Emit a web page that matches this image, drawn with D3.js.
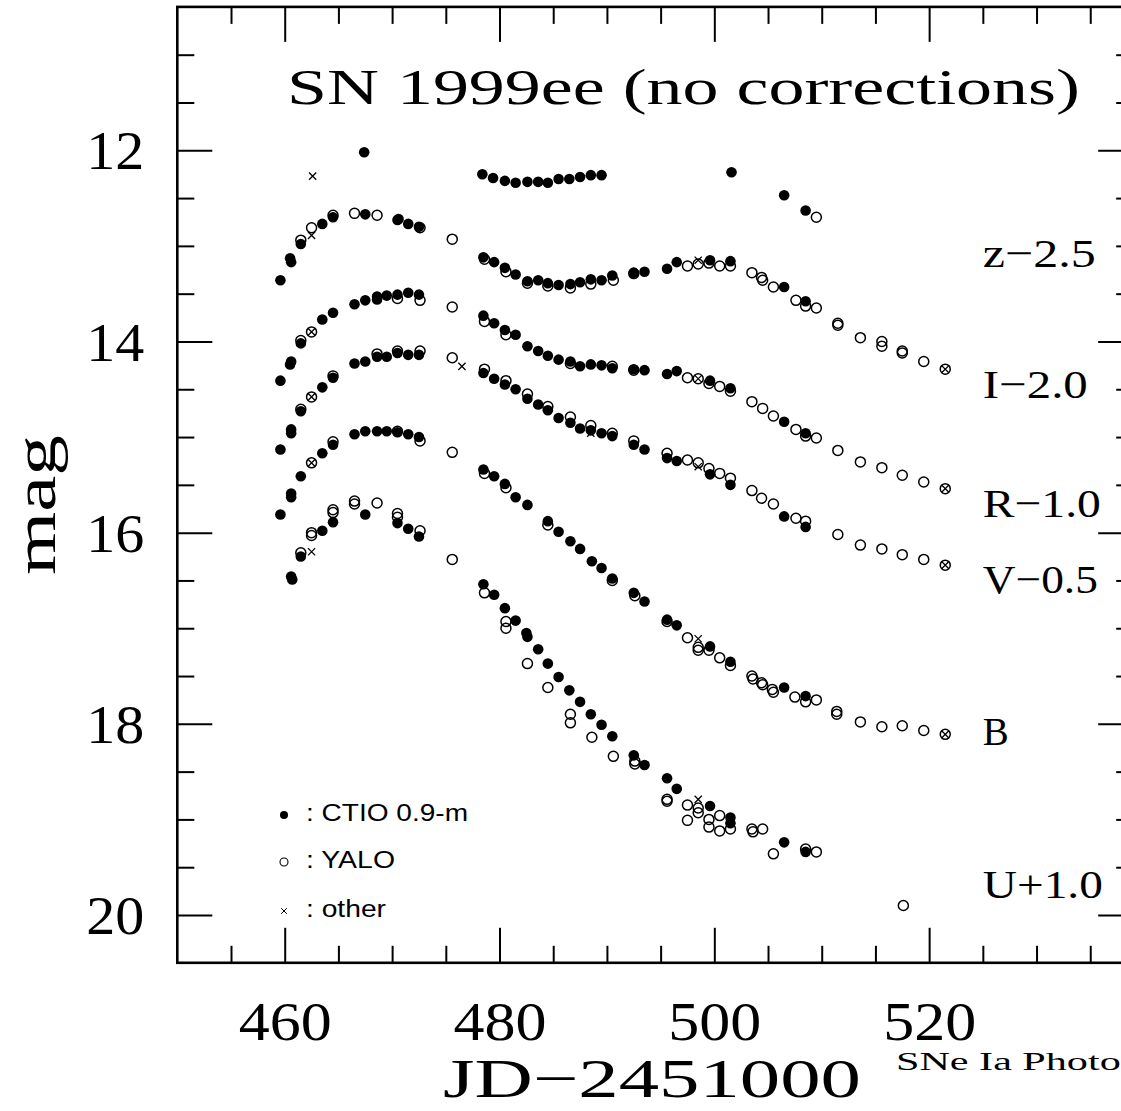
<!DOCTYPE html>
<html>
<head>
<meta charset="utf-8">
<script src="https://cdn.jsdelivr.net/npm/d3@7"></script>
<style>
  body { margin: 0; background: #fff; }
  svg { display: block; }
</style>
</head>
<body>
<div id="container"></div>
<script>
let w = 1121;
let h = 1111;

// light curve points: [JD-2451000, plotted mag, source]  c = CTIO 0.9-m, y = YALO, o = other
let zBand = [
  [462.6,12.27,"o"],[467.4,12.02,"c"],
  [478.4,12.25,"c"],[479.4,12.29,"c"],[480.5,12.32,"c"],[481.5,12.34,"c"],[482.6,12.33,"c"],[483.6,12.33,"c"],
  [484.5,12.34,"c"],[485.5,12.30,"c"],[486.5,12.30,"c"],[487.5,12.28,"c"],[488.5,12.26,"c"],[489.5,12.26,"c"],
  [501.6,12.23,"c"],[506.5,12.47,"c"],[508.5,12.63,"c"],[509.5,12.70,"y"]
];

let iBand = [
  [459.6,13.36,"c"],[460.6,13.17,"c"],[460.5,13.13,"c"],[461.5,12.98,"c"],[461.5,12.94,"y"],[462.5,12.81,"y"],[462.5,12.89,"o"],
  [463.5,12.77,"c"],[464.5,12.70,"c"],[464.5,12.68,"y"],[466.5,12.66,"y"],[467.5,12.67,"c"],[468.6,12.68,"y"],
  [470.5,12.73,"c"],[470.6,12.72,"c"],[471.5,12.77,"c"],[472.5,12.80,"c"],[472.6,12.81,"y"],[475.6,12.93,"y"],
  [478.5,13.12,"c"],[478.6,13.14,"y"],[479.5,13.17,"c"],[480.5,13.23,"c"],[480.6,13.27,"y"],[481.5,13.30,"c"],
  [482.6,13.37,"c"],[482.6,13.39,"y"],[483.6,13.36,"c"],[484.5,13.39,"c"],[484.5,13.42,"y"],[485.5,13.41,"c"],
  [486.6,13.40,"c"],[486.6,13.44,"y"],[487.5,13.38,"c"],[488.5,13.35,"c"],[488.5,13.40,"y"],[489.5,13.36,"c"],
  [490.5,13.31,"c"],[490.6,13.36,"y"],[492.5,13.28,"c"],[492.5,13.29,"y"],[493.5,13.27,"c"],[495.6,13.24,"c"],
  [496.5,13.17,"c"],[497.5,13.21,"y"],[498.5,13.15,"o"],[498.5,13.19,"y"],[499.6,13.15,"c"],[499.5,13.18,"y"],
  [500.5,13.21,"y"],[501.5,13.16,"c"],[501.5,13.21,"y"],[503.5,13.28,"y"],[504.4,13.33,"y"],[504.5,13.36,"y"],
  [505.5,13.43,"y"],[506.5,13.43,"c"],[507.6,13.57,"y"],[508.5,13.58,"c"],[508.5,13.63,"y"],[509.5,13.65,"y"],
  [511.5,13.81,"y"],[511.5,13.83,"y"],[513.6,13.96,"y"],[515.6,14.00,"y"],[515.6,14.05,"y"],[517.5,14.10,"y"],
  [517.5,14.12,"y"],[519.5,14.21,"y"],[521.5,14.29,"y"],[521.5,14.29,"o"]
];

let rBand = [
  [459.6,14.41,"c"],[460.6,14.21,"c"],[460.5,14.24,"c"],[461.5,14.02,"c"],[461.5,13.99,"y"],[462.5,13.90,"y"],[462.5,13.90,"o"],
  [463.5,13.77,"c"],[464.5,13.70,"c"],[466.5,13.61,"c"],[467.5,13.57,"c"],[468.6,13.56,"c"],[468.6,13.53,"c"],
  [469.5,13.52,"c"],[470.5,13.51,"c"],[470.5,13.55,"y"],[471.5,13.49,"c"],[472.5,13.51,"c"],[472.6,13.57,"y"],[475.6,13.64,"y"],
  [478.5,13.73,"c"],[478.6,13.79,"y"],[479.5,13.81,"c"],[480.5,13.88,"c"],[480.6,13.93,"y"],[481.5,13.93,"c"],
  [482.6,14.05,"c"],[483.6,14.10,"c"],[484.5,14.15,"c"],[485.5,14.19,"c"],[486.6,14.21,"c"],[486.6,14.23,"y"],
  [487.5,14.26,"c"],[488.5,14.24,"c"],[489.5,14.25,"c"],[490.5,14.28,"c"],[490.5,14.26,"y"],
  [492.5,14.29,"c"],[492.5,14.30,"y"],[493.5,14.30,"c"],[495.6,14.34,"c"],[496.5,14.31,"c"],[497.5,14.38,"y"],
  [498.5,14.39,"y"],[498.5,14.39,"o"],[499.6,14.41,"c"],[499.5,14.44,"y"],[500.5,14.47,"y"],[501.5,14.49,"c"],[501.5,14.52,"y"],
  [503.5,14.63,"y"],[504.5,14.70,"y"],[505.5,14.78,"y"],[506.5,14.84,"c"],[507.6,14.92,"y"],[508.5,14.96,"c"],
  [508.5,14.99,"y"],[509.5,15.01,"y"],[511.5,15.14,"y"],[513.6,15.26,"y"],[515.6,15.32,"y"],[517.5,15.40,"y"],
  [519.5,15.47,"y"],[521.5,15.54,"y"],[521.5,15.54,"o"]
];

let vBand = [
  [459.6,15.13,"c"],[460.6,14.92,"c"],[460.6,14.96,"c"],[461.5,14.73,"c"],[461.5,14.71,"y"],[462.5,14.58,"y"],[462.5,14.58,"o"],
  [463.5,14.48,"c"],[464.5,14.38,"c"],[464.5,14.36,"y"],[466.5,14.23,"c"],[467.5,14.21,"c"],[468.6,14.16,"c"],
  [468.6,14.13,"y"],[469.5,14.16,"c"],[470.5,14.12,"c"],[470.5,14.10,"y"],[471.5,14.14,"c"],[472.5,14.14,"c"],
  [472.6,14.10,"y"],[475.6,14.17,"y"],[476.5,14.26,"o"],
  [478.5,14.33,"c"],[478.6,14.29,"y"],[479.5,14.39,"c"],[480.5,14.45,"c"],[480.6,14.41,"y"],[481.5,14.50,"c"],
  [482.6,14.60,"c"],[482.6,14.55,"y"],[483.6,14.66,"c"],[484.5,14.72,"c"],[484.5,14.68,"y"],[485.5,14.80,"c"],
  [486.6,14.85,"c"],[486.6,14.79,"y"],[487.5,14.91,"c"],[488.5,14.93,"c"],[488.5,14.88,"y"],[488.5,14.96,"o"],
  [489.5,14.96,"c"],[490.5,14.99,"c"],[490.5,14.96,"y"],
  [492.5,15.08,"c"],[492.5,15.04,"y"],[493.5,15.13,"c"],[495.6,15.22,"c"],[495.6,15.17,"y"],[496.5,15.25,"c"],
  [497.5,15.24,"y"],[498.5,15.27,"y"],[498.5,15.31,"o"],[499.6,15.39,"c"],[499.5,15.33,"y"],[500.5,15.38,"y"],
  [501.5,15.50,"c"],[501.5,15.43,"y"],
  [503.5,15.56,"y"],[504.4,15.64,"y"],[505.5,15.70,"y"],[506.5,15.83,"c"],[507.6,15.85,"y"],[508.5,15.94,"c"],
  [508.5,15.88,"y"],[511.5,16.02,"y"],[513.6,16.13,"y"],[515.6,16.17,"y"],[517.5,16.23,"y"],[519.5,16.28,"y"],
  [521.5,16.34,"y"],[521.5,16.34,"o"]
];

let bBand = [
  [459.6,15.81,"c"],[460.6,15.59,"c"],[460.6,15.63,"c"],[461.5,15.41,"c"],[462.5,15.27,"y"],[462.5,15.27,"o"],
  [463.5,15.17,"c"],[464.5,15.08,"c"],[464.5,15.05,"y"],[466.5,14.97,"c"],[467.5,14.94,"c"],[468.6,14.94,"c"],
  [469.5,14.94,"c"],[470.5,14.95,"c"],[470.5,14.94,"y"],[471.5,14.97,"c"],[472.5,15.00,"c"],[472.6,15.04,"y"],[475.6,15.16,"y"],
  [478.5,15.34,"c"],[478.6,15.38,"y"],[479.5,15.41,"c"],[480.5,15.49,"c"],[480.6,15.53,"y"],[481.5,15.63,"c"],
  [482.6,15.71,"c"],[484.5,15.88,"c"],[484.5,15.92,"y"],[485.5,15.99,"c"],[486.6,16.09,"c"],[487.5,16.17,"c"],
  [488.6,16.30,"c"],[489.5,16.37,"c"],[490.5,16.48,"c"],[490.5,16.50,"y"],
  [492.5,16.63,"c"],[492.6,16.66,"y"],[493.5,16.72,"c"],[495.6,16.91,"c"],[495.6,16.93,"y"],[496.5,16.97,"c"],
  [497.5,17.10,"y"],[498.5,17.11,"o"],[498.5,17.20,"y"],[498.5,17.23,"y"],[499.6,17.19,"c"],[499.5,17.23,"y"],
  [500.5,17.31,"y"],[501.5,17.35,"c"],[501.5,17.39,"y"],
  [503.5,17.50,"y"],[503.6,17.53,"y"],[504.4,17.57,"y"],[504.5,17.59,"y"],[505.4,17.64,"y"],[505.5,17.67,"y"],
  [506.5,17.62,"c"],[507.5,17.72,"y"],[508.5,17.71,"c"],[508.5,17.77,"y"],[509.5,17.75,"y"],[511.4,17.87,"y"],
  [511.4,17.90,"y"],[513.6,17.98,"y"],[515.6,18.03,"y"],[517.5,18.02,"y"],[519.5,18.07,"y"],[521.5,18.11,"y"],[521.5,18.11,"o"]
];

let uBand = [
  [460.6,16.46,"c"],[460.7,16.49,"c"],[461.5,16.25,"c"],[461.5,16.21,"y"],[462.5,16.20,"o"],[462.5,16.03,"y"],[462.5,16.00,"y"],
  [463.5,15.98,"c"],[464.5,15.89,"c"],[464.5,15.76,"y"],[464.5,15.79,"y"],[466.5,15.67,"y"],[466.5,15.70,"y"],
  [467.5,15.81,"c"],[468.6,15.69,"y"],[470.5,15.80,"y"],[470.5,15.84,"y"],[470.5,15.90,"c"],[471.5,15.96,"c"],
  [472.6,15.98,"y"],[472.5,16.04,"c"],[475.6,16.28,"y"],
  [478.5,16.54,"c"],[478.6,16.63,"y"],[479.5,16.65,"c"],[480.5,16.79,"c"],[480.6,16.93,"y"],[480.6,17.00,"y"],
  [481.5,16.92,"c"],[482.5,17.05,"c"],[482.6,17.09,"c"],[482.6,17.37,"y"],[483.6,17.22,"c"],[484.5,17.37,"c"],
  [484.5,17.62,"y"],[485.5,17.51,"c"],[486.5,17.65,"c"],[486.6,17.90,"y"],[486.6,17.99,"y"],[487.5,17.77,"c"],
  [488.5,17.90,"c"],[488.6,18.14,"y"],[489.5,18.01,"c"],[490.5,18.13,"c"],[490.6,18.34,"y"],
  [492.5,18.33,"c"],[492.6,18.39,"y"],[492.6,18.42,"y"],[493.5,18.43,"c"],[495.6,18.57,"c"],[495.6,18.79,"y"],
  [495.6,18.81,"y"],[496.5,18.68,"c"],[497.5,18.85,"y"],[497.5,19.01,"y"],[498.5,18.79,"o"],[498.5,18.88,"y"],
  [498.5,18.93,"y"],[499.6,18.86,"c"],[499.5,19.00,"y"],[499.5,19.08,"y"],[500.5,18.96,"y"],[500.5,19.12,"y"],
  [501.5,18.98,"c"],[501.5,19.04,"c"],[501.5,19.10,"y"],
  [503.5,19.10,"y"],[503.6,19.13,"y"],[504.5,19.10,"y"],[505.5,19.36,"y"],[506.5,19.24,"c"],[508.5,19.34,"c"],
  [508.5,19.31,"y"],[509.5,19.34,"y"],[517.6,19.90,"y"]
];

let bandNames = ["z\u22122.5", "I\u22122.0", "R\u22121.0", "V\u22120.5", "B", "U+1.0"];
let bandData = [zBand, iBand, rBand, vBand, bBand, uBand];

let xMajorTicks = [460, 480, 500, 520];
let yMajorTicks = [12, 14, 16, 18, 20];

let legendNames = [": CTIO 0.9-m", ": YALO", ": other"];

// layout
let plotLeft = 177.3, plotRight = 1133.2, plotTop = 6.9, plotBottom = 962.8;
let serif = "'Liberation Serif', 'Times New Roman', serif";

let viz = d3.select("#container")
  .append("svg")
    .attr("width", w)
    .attr("height", h)
    .style("background-color", "white");

let xScale = d3.scaleLinear().domain([450, 539]).range([plotLeft, plotRight]);
let yScale = d3.scaleLinear().domain([10.5, 20.5]).range([plotTop, plotBottom]);

let xMinor = d3.range(455, 539, 5).filter(v => xMajorTicks.indexOf(v) < 0);
let yMinor = d3.range(11, 20.01, 0.5).filter(v => yMajorTicks.indexOf(v) < 0);

function tidy(g){
  g.select(".domain").remove();
  g.selectAll("line").attr("stroke", "black").attr("stroke-width", 2);
}

// bottom
viz.append("g").attr("transform", "translate(0," + plotBottom + ")")
  .call(d3.axisBottom(xScale).tickValues(xMinor).tickSize(-17).tickFormat(""))
  .call(tidy);
let xAxisGroup = viz.append("g").attr("class", "xaxis").attr("transform", "translate(0," + plotBottom + ")")
  .call(d3.axisBottom(xScale).tickValues(xMajorTicks).tickSize(-35).tickFormat(d3.format("d")))
  .call(tidy);
xAxisGroup.selectAll("text")
  .attr("y", 77).attr("dy", null)
  .attr("font-family", serif).attr("font-size", 55).attr("fill", "black")
  .attr("textLength", 93).attr("lengthAdjust", "spacingAndGlyphs");

// top
viz.append("g").attr("transform", "translate(0," + plotTop + ")")
  .call(d3.axisTop(xScale).tickValues(xMinor).tickSize(-17).tickFormat(""))
  .call(tidy);
viz.append("g").attr("transform", "translate(0," + plotTop + ")")
  .call(d3.axisTop(xScale).tickValues(xMajorTicks).tickSize(-35).tickFormat(""))
  .call(tidy);

// left
viz.append("g").attr("transform", "translate(" + plotLeft + ",0)")
  .call(d3.axisLeft(yScale).tickValues(yMinor).tickSize(-17).tickFormat(""))
  .call(tidy);
let yAxisGroup = viz.append("g").attr("class", "yaxis").attr("transform", "translate(" + plotLeft + ",0)")
  .call(d3.axisLeft(yScale).tickValues(yMajorTicks).tickSize(-35).tickFormat(d3.format("d")))
  .call(tidy);
yAxisGroup.selectAll("text")
  .attr("x", -33).attr("y", 18.7).attr("dy", null)
  .attr("font-family", serif).attr("font-size", 55).attr("fill", "black")
  .attr("textLength", 58).attr("lengthAdjust", "spacingAndGlyphs");

// right
viz.append("g").attr("transform", "translate(" + plotRight + ",0)")
  .call(d3.axisRight(yScale).tickValues(yMinor).tickSize(-17).tickFormat(""))
  .call(tidy);
viz.append("g").attr("transform", "translate(" + plotRight + ",0)")
  .call(d3.axisRight(yScale).tickValues(yMajorTicks).tickSize(-35).tickFormat(""))
  .call(tidy);

// frame
viz.append("rect")
  .attr("x", plotLeft).attr("y", plotTop)
  .attr("width", plotRight - plotLeft).attr("height", plotBottom - plotTop)
  .attr("fill", "none").attr("stroke", "black").attr("stroke-width", 2.6);

// points
let allPoints = bandData.flat();

viz.append("g").selectAll("circle")
  .data(allPoints.filter(d => d[2] == "c"))
  .enter().append("circle")
    .attr("cx", d => xScale(d[0]))
    .attr("cy", d => yScale(d[1]))
    .attr("r", 5.3)
    .attr("fill", "black");

viz.append("g").selectAll("circle")
  .data(allPoints.filter(d => d[2] == "y"))
  .enter().append("circle")
    .attr("cx", d => xScale(d[0]))
    .attr("cy", d => yScale(d[1]))
    .attr("r", 5)
    .attr("fill", "none")
    .attr("stroke", "black")
    .attr("stroke-width", 1.5);

viz.append("g").selectAll("path")
  .data(allPoints.filter(d => d[2] == "o"))
  .enter().append("path")
    .attr("transform", d => "translate(" + xScale(d[0]) + "," + yScale(d[1]) + ")")
    .attr("d", "M-3.6,-3.6L3.6,3.6M-3.6,3.6L3.6,-3.6")
    .attr("stroke", "black")
    .attr("stroke-width", 1.3);

// band labels
let labelMags = [13.07, 14.45, 15.69, 16.49, 18.07, 19.68];
let labelWidths = [113, 105, 118, 115, 26, 120];
viz.append("g").selectAll("text")
  .data(bandNames)
  .enter().append("text")
    .attr("x", xScale(525.0))
    .attr("y", (d, i) => yScale(labelMags[i]) + 14)
    .attr("font-family", serif)
    .attr("font-size", 41)
    .attr("textLength", (d, i) => labelWidths[i])
    .attr("lengthAdjust", "spacingAndGlyphs")
    .text(d => d);

// title
viz.append("text")
  .attr("x", 287).attr("y", 104)
  .attr("font-family", serif).attr("font-size", 51)
  .attr("textLength", 793).attr("lengthAdjust", "spacingAndGlyphs")
  .text("SN 1999ee (no corrections)");

// axis titles
viz.append("text")
  .attr("transform", "translate(55,505) rotate(-90)")
  .attr("text-anchor", "middle")
  .attr("font-family", serif).attr("font-size", 60)
  .attr("textLength", 140).attr("lengthAdjust", "spacingAndGlyphs")
  .text("mag");

viz.append("text")
  .attr("x", 652).attr("y", 1097)
  .attr("text-anchor", "middle")
  .attr("font-family", serif).attr("font-size", 55)
  .attr("textLength", 418).attr("lengthAdjust", "spacingAndGlyphs")
  .text("JD\u22122451000");

viz.append("text")
  .attr("x", 896).attr("y", 1070)
  .attr("font-family", serif).attr("font-size", 25)
  .attr("textLength", 323).attr("lengthAdjust", "spacingAndGlyphs")
  .text("SNe Ia Photometry");

// legend
let legendY = [815, 862, 911];
let legend = viz.append("g");
legend.append("circle").attr("cx", 284).attr("cy", legendY[0]).attr("r", 4).attr("fill", "black");
legend.append("circle").attr("cx", 284).attr("cy", legendY[1]).attr("r", 4)
  .attr("fill", "none").attr("stroke", "black").attr("stroke-width", 1.1);
legend.append("path").attr("transform", "translate(284," + legendY[2] + ")")
  .attr("d", "M-2.8,-2.8L2.8,2.8M-2.8,2.8L2.8,-2.8")
  .attr("stroke", "black").attr("stroke-width", 1);
let legendWidths = [162, 89, 80];
legend.selectAll("text")
  .data(legendNames)
  .enter().append("text")
    .attr("x", 306)
    .attr("y", (d, i) => legendY[i] + 6)
    .attr("font-family", "'Liberation Sans', Arial, sans-serif")
    .attr("font-size", 23)
    .attr("textLength", (d, i) => legendWidths[i])
    .attr("lengthAdjust", "spacingAndGlyphs")
    .text(d => d);
</script>
</body>
</html>
